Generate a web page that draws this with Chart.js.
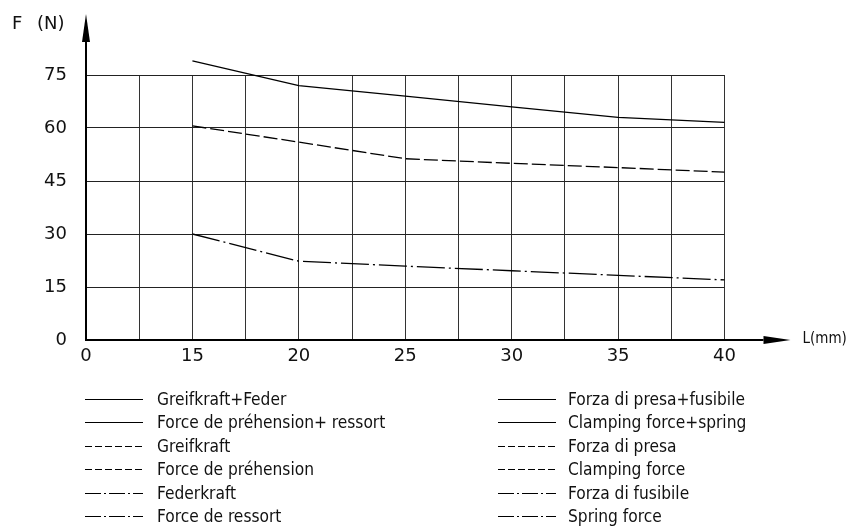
<!DOCTYPE html>
<html>
<head>
<meta charset="utf-8">
<script src="https://cdn.jsdelivr.net/npm/chart.js@4.4.0/dist/chart.umd.min.js"></script>
<style>
  html, body { margin: 0; padding: 0; background: #fff; }
  #wrap { position: relative; width: 847px; height: 530px; overflow: hidden; }
  #wrap canvas { position: absolute; left: 0; top: 0; }
  .leg { position: absolute; font-family: "DejaVu Sans Condensed", "Liberation Sans Narrow", "DejaVu Sans", sans-serif; font-stretch: condensed; font-size: 17.2px; color: #111; line-height: 20px; white-space: nowrap; }
  .leg svg { position: absolute; top: 0; }
  .leg span { position: absolute; top: 0; }
</style>
</head>
<body>
<div id="wrap">
  <canvas id="c" width="847" height="530"></canvas>
  <div id="legend"></div>
</div>
<script>
// ---- data ----
const xTickLabels = ['0', '', '15', '', '20', '', '25', '', '30', '', '35', '', '40'];
const lengths = [15, 20, 25, 30, 35, 40];
const clampingPlusSpring = [79, 72, 69, 66, 63, 61.6];
const clampingForce = [60.6, 56, 51.3, 50, 48.8, 47.5];
const springForce = [30, 22.3, 20.9, 19.6, 18.3, 17.0];
const yTicks = [0, 15, 30, 45, 60, 75];
const legendLeft = ['Greifkraft+Feder', 'Force de préhension+ ressort', 'Greifkraft', 'Force de préhension', 'Federkraft', 'Force de ressort'];
const legendRight = ['Forza di presa+fusibile', 'Clamping force+spring', 'Forza di presa', 'Clamping force', 'Forza di fusibile', 'Spring force'];
const legendStyles = ['solid', 'solid', 'dash', 'dash', 'dashdot', 'dashdot'];

const pos = L => xTickLabels.indexOf(String(L));
const toPoints = arr => arr.map((v, i) => ({ x: pos(lengths[i]), y: v }));

const tickFont = { family: '"DejaVu Sans", sans-serif', size: 18 };

const arrowPlugin = {
  id: 'arrows',
  afterDraw(chart) {
    const { ctx, chartArea: a } = chart;
    ctx.save();
    ctx.strokeStyle = '#000';
    ctx.fillStyle = '#000';
    ctx.lineWidth = 2;
    // y axis extension
    ctx.beginPath();
    ctx.moveTo(a.left, a.top);
    ctx.lineTo(a.left, a.top - 33);
    ctx.stroke();
    ctx.beginPath();
    ctx.moveTo(a.left - 4, a.top - 33);
    ctx.lineTo(a.left + 4, a.top - 33);
    ctx.lineTo(a.left, a.top - 61);
    ctx.closePath();
    ctx.fill();
    // x axis extension
    ctx.beginPath();
    ctx.moveTo(a.right, a.bottom);
    ctx.lineTo(a.right + 39, a.bottom);
    ctx.stroke();
    ctx.beginPath();
    ctx.moveTo(a.right + 39, a.bottom - 4);
    ctx.lineTo(a.right + 39, a.bottom + 4);
    ctx.lineTo(a.right + 66, a.bottom);
    ctx.closePath();
    ctx.fill();
    // axis titles
    ctx.fillStyle = '#111';
    ctx.textBaseline = 'middle';
    ctx.textAlign = 'left';
    ctx.font = '18px "DejaVu Sans", sans-serif';
    ctx.fillText('F', 12, 24);
    ctx.fillText('(N)', 37, 24);
    ctx.font = '15px "DejaVu Sans Condensed", "Liberation Sans Narrow", "DejaVu Sans", sans-serif';
    ctx.fillText('L(mm)', a.right + 78, a.bottom - 1);
    ctx.restore();
  }
};

const lineDs = (label, data, dash) => ({
  label,
  data: toPoints(data),
  borderColor: '#000',
  borderWidth: 1.3,
  borderDash: dash,
  pointRadius: 0,
  tension: 0,
  fill: false,
  clip: false
});

new Chart(document.getElementById('c'), {
  type: 'line',
  data: {
    datasets: [
      lineDs('Clamping force+spring', clampingPlusSpring, []),
      lineDs('Clamping force', clampingForce, [14, 4]),
      lineDs('Spring force', springForce, [28, 4, 2, 4])
    ]
  },
  options: {
    responsive: false,
    animation: false,
    layout: { padding: { left: 0, top: 75, right: 122.5, bottom: 150 } },
    plugins: { legend: { display: false }, tooltip: { enabled: false } },
    scales: {
      x: {
        type: 'linear',
        min: 0,
        max: xTickLabels.length - 1,
        afterFit(s) { s.height = 40; },
        afterBuildTicks(s) { s.ticks = xTickLabels.map((_, i) => ({ value: i })); },
        ticks: {
          autoSkip: false,
          maxRotation: 0,
          padding: 6,
          color: '#111',
          font: tickFont,
          callback: v => xTickLabels[v]
        },
        grid: { color: '#333', lineWidth: 1, drawTicks: false },
        border: { display: true, color: '#000', width: 2 }
      },
      y: {
        type: 'linear',
        min: 0,
        max: 75,
        afterFit(s) { s.width = 86; },
        afterBuildTicks(s) { s.ticks = yTicks.map(v => ({ value: v })); },
        ticks: {
          padding: 19,
          color: '#111',
          font: tickFont
        },
        grid: { color: '#222', lineWidth: 1, drawTicks: false },
        border: { display: true, color: '#000', width: 2 }
      }
    }
  },
  plugins: [arrowPlugin]
});

// ---- legend ----
const dashFor = { solid: '', dash: '7 3', dashdot: '16 3 2 3' };
const legendEl = document.getElementById('legend');
function addLegend(texts, sampleX, textX) {
  texts.forEach((t, i) => {
    const d = document.createElement('div');
    d.className = 'leg';
    d.style.left = sampleX + 'px';
    d.style.top = (389 + i * 23.4) + 'px';
    const w = 58;
    d.innerHTML = '<svg width="' + w + '" height="20"><line x1="0" y1="10.5" x2="' + w + '" y2="10.5" stroke="#000" stroke-width="1.2" stroke-dasharray="' + dashFor[legendStyles[i]] + '"/></svg>' +
      '<span style="left:' + (textX - sampleX) + 'px">' + t + '</span>';
    legendEl.appendChild(d);
  });
}
addLegend(legendLeft, 85, 157);
addLegend(legendRight, 498, 568);
</script>
</body>
</html>
